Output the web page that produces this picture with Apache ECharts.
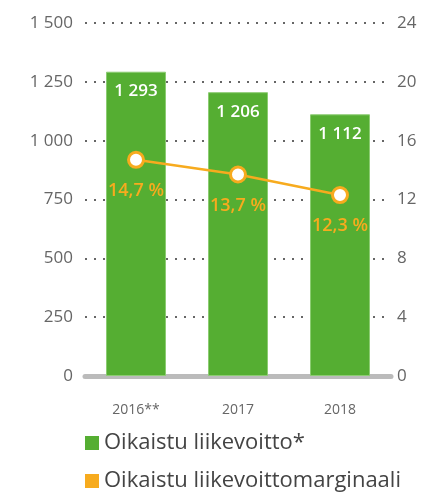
<!DOCTYPE html>
<html>
<head>
    <meta charset="utf-8">
    <title>Oikaistu liikevoitto</title>
    <script src="https://cdn.jsdelivr.net/npm/echarts@6/dist/echarts.min.js"></script>
</head>
<body style="margin:0">
    <div id="main" style="width: 427px;height:497px;"></div>
    <script type="text/javascript">
    var myChart = echarts.init(document.getElementById('main'));

var years = ['2016**', '2017', '2018'];
var profit = [1293, 1206, 1112];
var margin = [14.7, 13.7, 12.3];

function fmt(v) {
    return String(v).replace(/\B(?=(\d{3})+(?!\d))/g, ' ');
}

var font = 'Open Sans';
var green = '#55ae32', orange = '#f7ab1e';

option = {
    textStyle: { fontFamily: font },
    grid: { left: 85, right: 36, top: 23, bottom: 121 },
    legend: {
        orient: 'vertical',
        left: 80,
        top: 427,
        itemGap: 16,
        itemWidth: 14,
        itemHeight: 14,
        icon: 'rect',
        textStyle: { fontSize: 22, color: '#444', fontFamily: font },
        data: [
            { name: 'Oikaistu liikevoitto*', itemStyle: { color: green, borderWidth: 0 } },
            { name: 'Oikaistu liikevoittomarginaali', itemStyle: { color: orange, borderWidth: 0 } }
        ]
    },
    xAxis: {
        type: 'category',
        data: years,
        axisTick: { show: false },
        axisLine: { lineStyle: { color: '#bbb', width: 5 } },
        axisLabel: { color: '#666', fontSize: 14, margin: 27 }
    },
    yAxis: [{
        type: 'value',
        min: 0,
        max: 1500,
        interval: 250,
        axisLabel: { color: '#666', fontSize: 17, margin: 12, formatter: fmt },
        splitLine: { lineStyle: { color: '#666', type: [2, 7], width: 2 } }
    }, {
        type: 'value',
        min: 0,
        max: 24,
        interval: 4,
        axisLabel: { color: '#666', fontSize: 17, margin: 6 },
        splitLine: { show: false }
    }],
    series: [{
        name: 'Oikaistu liikevoitto*',
        type: 'bar',
        data: profit,
        barWidth: 60,
        itemStyle: { color: green, borderColor: '#8ccc72', borderWidth: 1 },
        label: {
            show: true,
            position: 'insideTop',
            distance: 11,
            color: '#fff',
            fontSize: 17,
            fontWeight: 600,
            formatter: function (p) { return fmt(p.value); }
        }
    }, {
        name: 'Oikaistu liikevoittomarginaali',
        type: 'line',
        yAxisIndex: 1,
        data: margin,
        symbol: 'circle',
        symbolSize: 15,
        color: orange,
        lineStyle: { color: orange, width: 2.5 },
        itemStyle: { color: '#fff', borderColor: orange, borderWidth: 3 },
        label: {
            show: true,
            position: 'bottom',
            distance: 13,
            color: orange,
            fontSize: 18,
            fontWeight: 600,
            formatter: function (p) { return String(p.value).replace('.', ',') + ' %'; }
        }
    }]
};

        myChart.setOption(option);
    </script>
</body>
</html>
